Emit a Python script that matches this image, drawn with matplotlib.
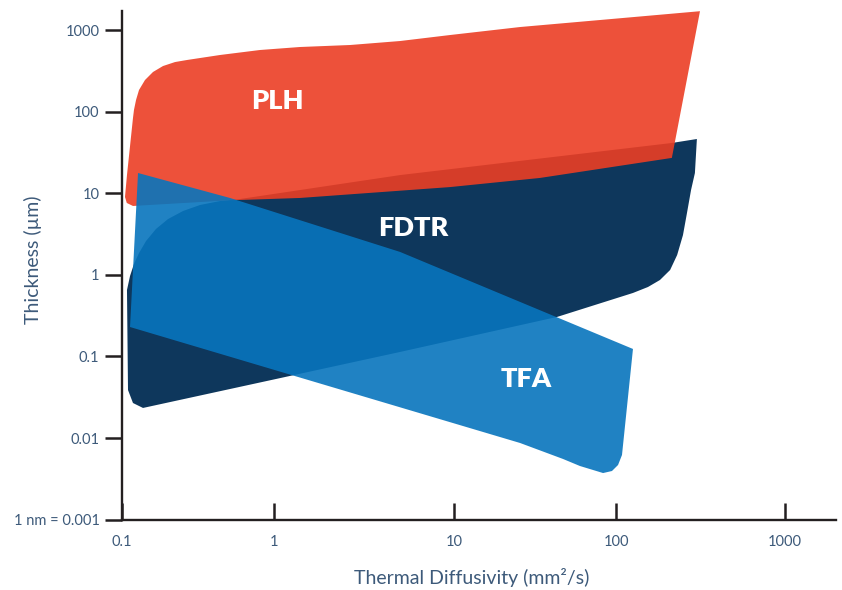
import numpy as np
import matplotlib
matplotlib.use("Agg")
import matplotlib.pyplot as plt
from matplotlib.ticker import FixedLocator, NullLocator, FixedFormatter

# outlines of the three technique regions
# (thermal diffusivity mm^2/s, thickness um)
plh_x = [314, 79.6, 25.5, 9.46, 5.0, 2.64, 1.39, 0.809, 0.4416, 0.268, 0.2239, 0.1867,
         0.1605, 0.1422, 0.1299, 0.1242, 0.1204, 0.1186, 0.1083, 0.1051, 0.108, 0.1186,
         0.52, 1.39, 9.46, 33.9, 214]
plh_y = [1700, 1326, 1088, 868, 733, 655, 619, 569, 494, 429, 405, 362,
         306, 244, 184, 139, 105, 83.6, 16.7, 9.0, 7.6, 6.98,
         8.2, 8.75, 11.9, 15.4, 27.1]

fdtr_x = [301, 214, 5.0, 0.598, 0.442, 0.3266, 0.2527, 0.2014, 0.1679, 0.1445, 0.1299,
          0.1204, 0.1134, 0.1083, 0.110, 0.1186, 0.138, 5.0, 43.2, 126, 154.6, 182,
          209, 230, 249, 263, 278, 293]
fdtr_y = [46.2, 41.3, 16.7, 8.5, 8.03, 7.18, 6.06, 4.83, 3.65, 2.60, 1.85,
          1.36, 0.968, 0.652, 0.0388, 0.0269, 0.0234, 0.1135, 0.305, 0.600, 0.710, 0.865,
          1.147, 1.75, 3.07, 5.73, 10.96, 17.7]

tfa_x = [0.128, 0.514, 5.0, 126, 108.5, 102.8, 94.4, 83.2, 59.8, 47.0, 25.5, 0.1134]
tfa_y = [17.7, 8.75, 1.91, 0.1236, 0.00621, 0.00468, 0.00395, 0.00373, 0.00455,
         0.00555, 0.00871, 0.2296]

region_names = ["PLH", "FDTR", "TFA"]
label_x = [1.05, 5.9, 27.7]
label_y = [135, 3.75, 0.053]

x_ticks = [0.1, 1, 10, 100, 1000]
x_ticklabels = ["0.1", "1", "10", "100", "1000"]
y_ticks = [0.001, 0.01, 0.1, 1, 10, 100, 1000]
y_ticklabels = ["1 nm = 0.001", "0.01", "0.1", "1", "10", "100", "1000"]

# the original x axis decades are not evenly spaced, so map them piecewise
KL = [-12, -1, 0, 1, 2, 3, 12]
KP = [-1675.3, 0, 152.3, 332.6, 494.3, 663.3, 2184.3]


def fwd(x):
    x = np.asarray(x, dtype=float)
    with np.errstate(divide="ignore", invalid="ignore"):
        lx = np.log10(np.clip(x, 1e-12, None))
    return np.interp(lx, KL, KP)


def inv(p):
    return 10 ** np.interp(np.asarray(p, dtype=float), KP, KL)


plt.rcParams["font.family"] = ["Lato", "DejaVu Sans"]
txt = "#3d5a7a"
ink = "#231f20"

fig = plt.figure(figsize=(8.42, 5.90), dpi=100)
ax = fig.add_axes([0.14454, 0.11915, 0.84798, 0.86186])
ax.set_xscale("function", functions=(fwd, inv))
ax.set_yscale("log")
ax.set_xlim(0.1, 1995)
ax.set_ylim(0.001, 1700)

ax.fill(fdtr_x, fdtr_y, color="#0e375c", lw=0, zorder=1)
ax.fill(plh_x, plh_y, color="#ec3e24", alpha=0.9, lw=0, zorder=2)
ax.fill(tfa_x, tfa_y, color="#0875bd", alpha=0.9, lw=0, zorder=3)

for name, lx, ly in zip(region_names, label_x, label_y):
    ax.text(lx, ly, name, color="white", fontsize=19.5, fontweight="heavy",
            ha="center", va="center", zorder=5)

ax.xaxis.set_major_locator(FixedLocator(x_ticks))
ax.xaxis.set_major_formatter(FixedFormatter(x_ticklabels))
ax.xaxis.set_minor_locator(NullLocator())
ax.yaxis.set_major_locator(FixedLocator(y_ticks))
ax.yaxis.set_major_formatter(FixedFormatter(y_ticklabels))
ax.yaxis.set_minor_locator(NullLocator())

for s in ["top", "right"]:
    ax.spines[s].set_visible(False)
for s in ["left", "bottom"]:
    ax.spines[s].set_color(ink)
    ax.spines[s].set_linewidth(1.7)

ax.tick_params(axis="x", direction="in", length=12, width=1.8, color=ink,
               labelsize=10.5, labelcolor=txt, pad=11)
ax.tick_params(axis="y", direction="out", length=12, width=1.8, color=ink,
               labelsize=10.5, labelcolor=txt, pad=4)

ax.set_xlabel("Thermal Diffusivity (mm²/s)", fontsize=14, color=txt, va="center")
ax.xaxis.set_label_coords(0.4906, -0.1127)
ax.set_ylabel("Thickness (µm)", fontsize=14, color=txt, va="center")
ax.yaxis.set_label_coords(-0.1242, 0.5107)

fig.savefig("out.png", dpi=100)
